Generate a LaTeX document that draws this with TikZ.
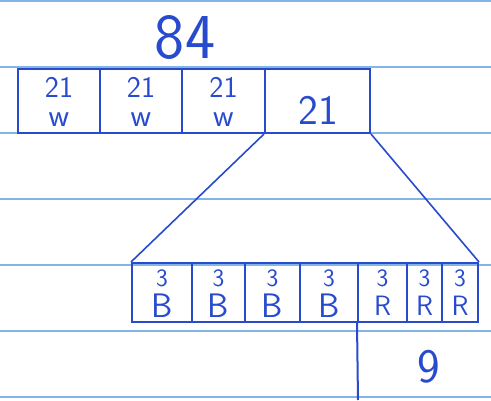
\documentclass[tikz,border=0pt]{standalone}
\usepackage{tikz}
\usepackage{xcolor}
\definecolor{ink}{RGB}{40,75,205}
\definecolor{rule}{RGB}{130,180,230}
\tikzset{
  cell/.style={draw=ink, line width=2pt, inner sep=0pt},
  inktext/.style={text=ink, inner sep=0pt, font=\sffamily\fontsize{#1}{#1}\selectfont},
  paperline/.style={draw=rule, line width=1.3pt}
}

\begin{document}
\begin{tikzpicture}[x=1pt,y=-1pt]
  \useasboundingbox (0,0) rectangle (491,400);
  \fill[white] (0,0) rectangle (491,400);
  % ruled paper
  \foreach \yy in {1,67,133,199,265,331,397} \draw[paperline] (0,\yy) -- (491,\yy);
  % top bar: 84
  \node (total) [inktext=64] at (185,38) {84};
  \foreach \name/\cx/\cw in {w1/59/82, w2/141/82, w3/223.5/83} {
    \node (\name) [cell, minimum width=\cw pt, minimum height=64pt] at (\cx,101) {};
    \node (\name num) [inktext=30] at (\cx,87) {21};
    \node (\name let) [inktext=32] at (\cx,120) {w};
  }
  \node (rest) [cell, minimum width=105pt, minimum height=64pt] at (317.5,101) {};
  \node (restnum) [inktext=42] at (318,110) {21};
  % bottom bar: 3 each
  \foreach \name/\cx/\cw/\ltr/\sz in {b1/162/60/B/34, b2/218.5/53/B/34, b3/272.5/55/B/34, b4/329/58/B/34,
                                     r1/382.5/49/R/28, r2/424.5/35/R/28, r3/460/36/R/28} {
    \node (\name) [cell, minimum width=\cw pt, minimum height=59pt] at (\cx,292.5) {};
    \node (\name num) [inktext=25] at (\cx,278) {3};
    \node (\name let) [inktext=\sz] at (\cx,306) {\ltr};
  }
  % the 9 under the red part
  \node (nine) [inktext=48] at (429,367) {9};
  \coordinate (cut) at (358,400);
  \draw[ink, line width=2pt] (r1.south west) -- (cut);
  % zoom lines
  \draw[ink, line width=1.6pt] (rest.south west) -- (b1.north west);
  \draw[ink, line width=1.6pt] (rest.south east) -- (r3.north east);
\end{tikzpicture}
\end{document}
